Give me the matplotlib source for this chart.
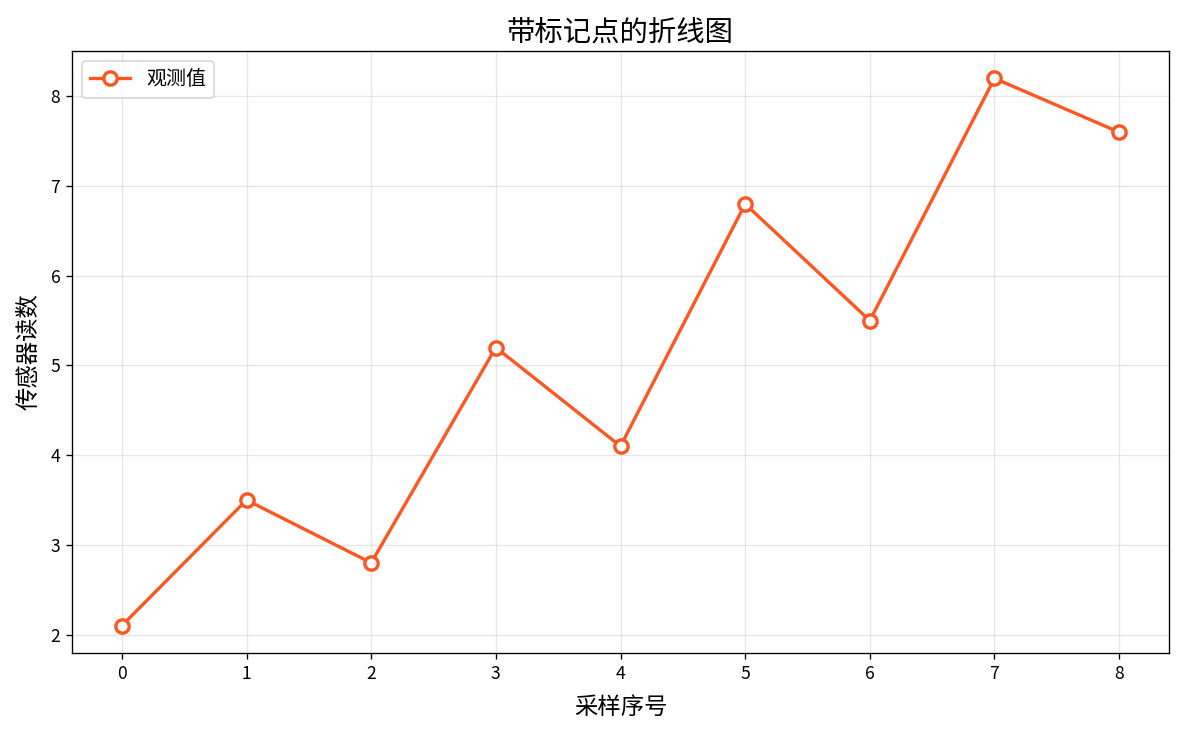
import matplotlib
matplotlib.use("Agg")
import matplotlib.pyplot as plt

plt.rcParams['font.family'] = ['Noto Sans CJK SC', 'DejaVu Sans']
plt.rcParams['axes.unicode_minus'] = False

x = [0, 1, 2, 3, 4, 5, 6, 7, 8]
y = [2.1, 3.5, 2.8, 5.2, 4.1, 6.8, 5.5, 8.2, 7.6]

fig = plt.figure(figsize=(1184/120, 733/120), dpi=120)
ax = fig.add_axes([72/1184, 1-653/733, (1169-72)/1184, (653-51)/733])
ax.plot(x, y, color='#FF5722', linewidth=2, marker='o', markersize=8,
        markerfacecolor='white', markeredgewidth=2, label='观测值')
ax.set_title('带标记点的折线图', fontsize=17, pad=6)
ax.set_xlabel('采样序号', fontsize=14, labelpad=8)
ax.set_ylabel('传感器读数', fontsize=14, labelpad=6)
ax.tick_params(labelsize=10.5)
ax.grid(True, alpha=0.3)
ax.legend(loc='upper left', fontsize=12)
fig.savefig('out.png', dpi=120)
